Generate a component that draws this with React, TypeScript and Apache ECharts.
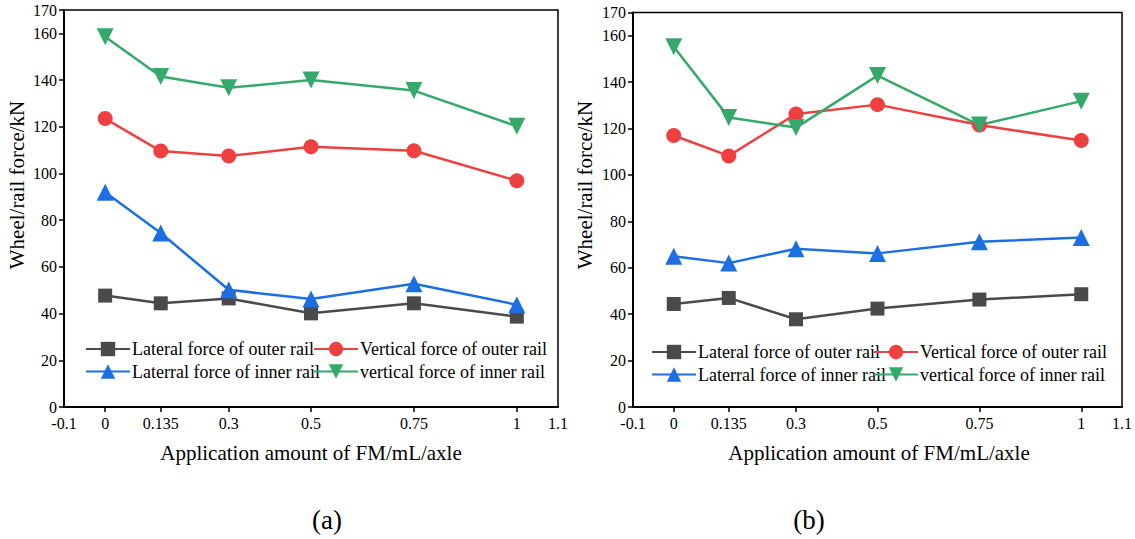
import React, { useEffect, useRef } from "react";
import * as echarts from "echarts";

const xValues = [0, 0.135, 0.3, 0.5, 0.75, 1];
const xTickLabels = [-0.1, 0, 0.135, 0.3, 0.5, 0.75, 1, 1.1];
const xTickMarks = [0, 0.135, 0.3, 0.5, 0.75, 1];
const yTickLabels = [0, 20, 40, 60, 80, 100, 120, 140, 160, 170];

const seriesNames = [
  "Lateral force of outer rail",
  "Vertical force of outer rail",
  "Laterral force of inner rail",
  "vertical force of inner rail",
];

// Panel (a)
const latOuterA = [47.7, 44.4, 46.5, 40.1, 44.4, 38.7];
const vertOuterA = [123.5, 109.6, 107.5, 111.4, 109.7, 96.9];
const latInnerA = [92, 74.5, 50.2, 46.2, 52.8, 43.8];
const vertInnerA = [158.5, 141.5, 136.7, 140, 135.5, 120.2];

// Panel (b)
const latOuterB = [44.4, 47, 37.8, 42.4, 46.3, 48.6];
const vertOuterB = [117, 108.2, 126.3, 130.3, 121.5, 114.8];
const latInnerB = [65, 62, 68.2, 66.2, 71.2, 73];
const vertInnerB = [155.2, 124.8, 120.4, 142.8, 121.5, 131.8];

const FONT = "'Liberation Serif', 'Times New Roman', serif";
const colors = ["#4a4a4a", "#ef4040", "#1c6fe3", "#35a96a"];
const symbols = ["rect", "circle", "triangle", "triangle"];
const rotates = [0, 0, 0, 180];
const sizes = [14, 15, 17, 17];

function pairs(ys: number[]) {
  return ys.map((y, i) => [xValues[i], y]);
}

function makeSeries(gridIdx: number, arrs: number[][]) {
  return arrs.map((arr, k) => ({
    name: seriesNames[k],
    type: "line",
    xAxisIndex: gridIdx,
    yAxisIndex: gridIdx,
    data: pairs(arr),
    symbol: symbols[k],
    symbolSize: sizes[k],
    symbolRotate: rotates[k],
    lineStyle: { color: colors[k], width: 2.5 },
    itemStyle: { color: colors[k] },
    z: 3,
  }));
}

function xAxis(gridIndex: number) {
  return {
    type: "value",
    gridIndex,
    min: -0.1,
    max: 1.1,
    axisLine: { show: true, onZero: false, lineStyle: { color: "#000", width: 2 } },
    axisTick: {
      show: true,
      length: 5,
      customValues: xTickMarks,
      lineStyle: { color: "#000", width: 1.5 },
    },
    axisLabel: {
      customValues: xTickLabels,
      formatter: (v: number) => String(v),
      color: "#000",
      fontFamily: FONT,
      fontSize: 16,
      margin: 8,
    },
    splitLine: { show: false },
  };
}

function yAxis(gridIndex: number) {
  return {
    type: "value",
    gridIndex,
    min: 0,
    max: 170,
    axisLine: { show: true, onZero: false, lineStyle: { color: "#000", width: 2 } },
    axisTick: {
      show: true,
      length: 5,
      customValues: yTickLabels,
      lineStyle: { color: "#000", width: 1.5 },
    },
    axisLabel: {
      customValues: yTickLabels,
      color: "#000",
      fontFamily: FONT,
      fontSize: 16,
      margin: 7,
    },
    splitLine: { show: false },
  };
}

function legend(left: number, top: number, data: string[]) {
  return {
    orient: "vertical",
    left,
    top,
    data,
    itemWidth: 44,
    itemHeight: 18,
    itemGap: 4.5,
    padding: 0,
    selectedMode: false,
    textStyle: { color: "#000", fontFamily: FONT, fontSize: 18, padding: [0, 0, 0, -3] },
  };
}

export default function App() {
  const ref = useRef<HTMLDivElement>(null);
  useEffect(() => {
    document.body.style.margin = "0";
    if (!ref.current) return;
    const chart = echarts.init(ref.current, null, { renderer: "svg" });
    chart.setOption({
      animation: false,
      backgroundColor: "#fff",
      grid: [
        { left: 64, right: 577, top: 10, bottom: 132, show: true, borderColor: "#000", borderWidth: 1.5 },
        { left: 633, right: 12, top: 12.5, bottom: 132, show: true, borderColor: "#000", borderWidth: 1.5 },
      ],
      xAxis: [xAxis(0), xAxis(1)],
      yAxis: [yAxis(0), yAxis(1)],
      legend: [
        legend(85, 340, [seriesNames[0], seriesNames[2]]),
        legend(313, 340, [seriesNames[1], seriesNames[3]]),
        legend(651, 343, [seriesNames[0], seriesNames[2]]),
        legend(873, 343, [seriesNames[1], seriesNames[3]]),
      ],
      series: [
        ...makeSeries(0, [latOuterA, vertOuterA, latInnerA, vertInnerA]),
        ...makeSeries(1, [latOuterB, vertOuterB, latInnerB, vertInnerB]),
      ],
      graphic: [
        {
          type: "text",
          x: 17,
          y: 185,
          rotation: Math.PI / 2,
          style: { text: "Wheel/rail force/kN", font: `21px ${FONT}`, fill: "#000", align: "center", verticalAlign: "middle" },
        },
        {
          type: "text",
          x: 585,
          y: 185,
          rotation: Math.PI / 2,
          style: { text: "Wheel/rail force/kN", font: `21px ${FONT}`, fill: "#000", align: "center", verticalAlign: "middle" },
        },
        {
          type: "text",
          x: 311,
          y: 453,
          style: { text: "Application amount of FM/mL/axle", font: `21px ${FONT}`, fill: "#000", align: "center", verticalAlign: "middle" },
        },
        {
          type: "text",
          x: 879,
          y: 453,
          style: { text: "Application amount of FM/mL/axle", font: `21px ${FONT}`, fill: "#000", align: "center", verticalAlign: "middle" },
        },
        {
          type: "text",
          x: 327,
          y: 520,
          style: { text: "(a)", font: `27px ${FONT}`, fill: "#000", align: "center", verticalAlign: "middle" },
        },
        {
          type: "text",
          x: 809,
          y: 520,
          style: { text: "(b)", font: `27px ${FONT}`, fill: "#000", align: "center", verticalAlign: "middle" },
        },
      ],
    });
    return () => chart.dispose();
  }, []);
  return <div ref={ref} style={{ width: 1135, height: 539 }} />;
}
